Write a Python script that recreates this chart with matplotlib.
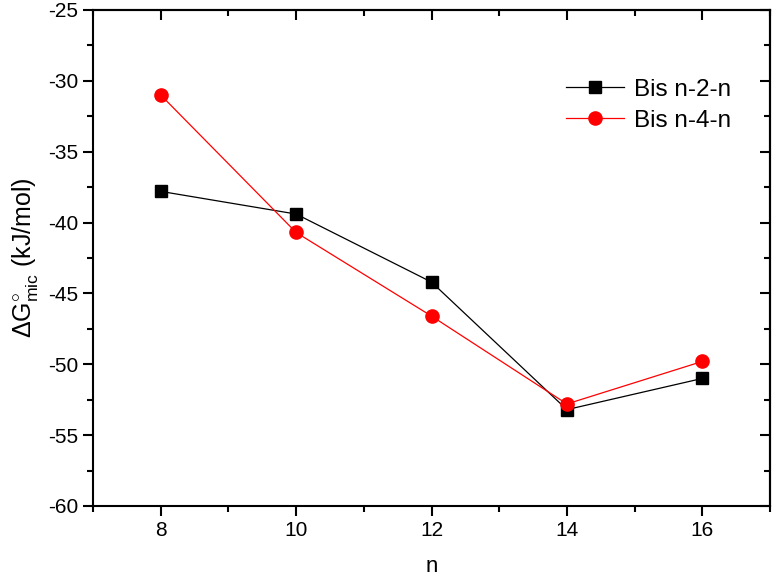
import numpy as np
import matplotlib
matplotlib.use("Agg")
from matplotlib import pyplot as plt
from matplotlib.ticker import MultipleLocator

plt.rcParams['font.family'] = ['Liberation Sans', 'DejaVu Sans']
plt.rcParams['mathtext.fontset'] = 'custom'
plt.rcParams['mathtext.rm'] = 'Liberation Sans'
plt.rcParams['mathtext.it'] = 'Liberation Sans'
plt.rcParams['axes.unicode_minus'] = False

# 数据
n_values = [8, 10, 12, 14, 16]
bis_2 = [-37.8, -39.4, -44.2, -53.2, -51.0]
bis_4 = [-31.0, -40.7, -46.6, -52.8, -49.8]
series_labels = ['Bis n-2-n', 'Bis n-4-n']

fig = plt.figure(figsize=(7.74, 5.8), dpi=100)
ax = fig.add_axes([0.1202, 0.1276, 0.8746, 0.8552])

ax.plot(n_values, bis_2, color='black', linewidth=0.9, marker='s',
        markersize=8, label=series_labels[0])
ax.plot(n_values, bis_4, color='red', linewidth=0.9, marker='o',
        markersize=9.5, label=series_labels[1])

ax.set_xlim(7, 17)
ax.set_ylim(-60, -25)
ax.xaxis.set_major_locator(MultipleLocator(2))
ax.xaxis.set_minor_locator(MultipleLocator(1))
ax.yaxis.set_major_locator(MultipleLocator(5))
ax.yaxis.set_minor_locator(MultipleLocator(2.5))

for s in ax.spines.values():
    s.set_linewidth(1.5)
ax.tick_params(which='major', direction='out', length=7, width=1.5, labelsize=15)
ax.tick_params(which='minor', direction='out', length=4, width=1.5)

# 上、右两侧的内向刻度
top = ax.secondary_xaxis('top')
top.xaxis.set_major_locator(MultipleLocator(2))
top.xaxis.set_minor_locator(MultipleLocator(1))
top.tick_params(which='major', direction='in', length=7, width=1.5, labeltop=False)
top.tick_params(which='minor', direction='in', length=4, width=1.5)
right = ax.secondary_yaxis('right')
right.yaxis.set_major_locator(MultipleLocator(5))
right.yaxis.set_minor_locator(MultipleLocator(2.5))
right.tick_params(which='major', direction='in', length=7, width=1.5, labelright=False)
right.tick_params(which='minor', direction='in', length=4, width=1.5)
for sec in (top, right):
    for s in sec.spines.values():
        s.set_linewidth(1.5)

ax.set_xlabel('n', fontsize=16, labelpad=12)
ax.set_ylabel(r'$\Delta$G$^{\circ}_{\rm mic}$ (kJ/mol)', fontsize=18, labelpad=6)

ax.legend(loc='upper right', bbox_to_anchor=(0.975, 0.905), frameon=False,
          fontsize=17.5, handlelength=2.4, handletextpad=0.4, labelspacing=0.35)

fig.savefig('out.png', dpi=100)
plt.close(fig)
